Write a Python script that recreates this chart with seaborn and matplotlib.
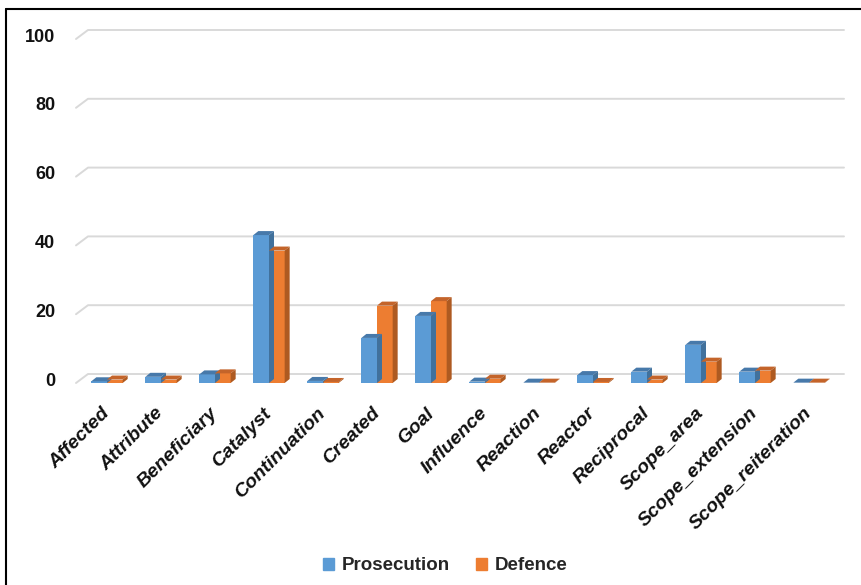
import matplotlib
matplotlib.use("Agg")
import matplotlib.pyplot as plt
from matplotlib.patches import Polygon
from matplotlib.lines import Line2D
from matplotlib.transforms import ScaledTranslation
import seaborn as sns
import pandas as pd

# Semantic role counts per side
categories = ["Affected", "Attribute", "Beneficiary", "Catalyst", "Continuation",
              "Created", "Goal", "Influence", "Reaction", "Reactor", "Reciprocal",
              "Scope_area", "Scope_extension", "Scope_reiteration"]
prosecution = [0.5, 1.8, 2.5, 43.0, 0.6, 13.1, 19.5, 0.4, 0.1, 2.3, 3.3, 11.1, 3.3, 0.1]
defence = [1.0, 1.0, 2.8, 38.5, 0.3, 22.5, 23.8, 1.25, 0.1, 0.3, 1.0, 6.2, 3.6, 0.1]
series_names = ["Prosecution", "Defence"]
y_ticks = [0, 20, 40, 60, 80, 100]

front_colors = {"Prosecution": "#5B9BD5", "Defence": "#ED7D31"}
side_colors = {"Prosecution": "#41719C", "Defence": "#AE5A21"}
top_colors = {"Prosecution": "#4779AA", "Defence": "#C4642A"}

sns.set_theme(style="white")
plt.rcParams["font.family"] = ["Liberation Sans", "DejaVu Sans"]

df = pd.DataFrame({
    "role": categories * 2,
    "count": prosecution + defence,
    "side": [series_names[0]] * len(categories) + [series_names[1]] * len(categories),
})

W, H = 861, 585
fig = plt.figure(figsize=(W / 100, H / 100), dpi=100)
ax_left, ax_right, ax_bottom, ax_top = 80, 836, 383, 39
ax = fig.add_axes([ax_left / W, 1 - ax_bottom / H, (ax_right - ax_left) / W, (ax_bottom - ax_top) / H])

sns.barplot(data=df, x="role", y="count", hue="side", hue_order=series_names,
            palette=front_colors, width=0.58, linewidth=0, saturation=1,
            legend=False, ax=ax, zorder=3)

n = len(categories)
ax.set_xlim(-0.5, n - 0.5)
ax.set_ylim(0, 100)

# pixel-to-data conversion
px_x = n / (ax_right - ax_left)
px_y = 100 / (ax_bottom - ax_top)

# back-wall gridlines with a short floor diagonal on the left
for v in y_ticks:
    ax.add_line(Line2D([-0.5 - 4 * px_x, -0.5 + 8 * px_x, n - 0.5 + 8 * px_x],
                       [v, v + 9 * px_y, v + 9 * px_y],
                       color="#D9D9D9", lw=1.4, clip_on=False, zorder=1))

# depth faces on each bar
dx, dy = 5 * px_x, 4 * px_y
for i, bar in enumerate(ax.patches):
    name = series_names[i // n]
    x0, w, h = bar.get_x(), bar.get_width(), bar.get_height()
    top = Polygon([(x0, h), (x0 + w, h), (x0 + w + dx, h + dy), (x0 + dx, h + dy)],
                  closed=True, facecolor=top_colors[name], edgecolor="none", zorder=3)
    side = Polygon([(x0 + w, 0), (x0 + w, h), (x0 + w + dx, h + dy), (x0 + w + dx, dy)],
                   closed=True, facecolor=side_colors[name], edgecolor="none", zorder=3)
    ax.add_patch(top)
    ax.add_patch(side)

for s in ax.spines.values():
    s.set_visible(False)
ax.grid(False)
ax.set_xlabel("")
ax.set_ylabel("")
ax.set_yticks(y_ticks)
ax.set_yticklabels([str(t) for t in y_ticks], fontsize=13, fontweight="bold", color="#111111")
ax.tick_params(axis="y", length=0, pad=18)
ax.tick_params(axis="x", length=0, pad=20)
ax.set_xticks(range(n))
ax.set_xticklabels(categories, rotation=45, ha="right", va="center", rotation_mode="anchor",
                   fontsize=14, fontweight="bold", fontstyle="italic", color="#111111")

# lift the value labels to sit between the front and back planes
lift = ScaledTranslation(0, 0.04, fig.dpi_scale_trans)
for lbl in ax.get_yticklabels():
    lbl.set_transform(lbl.get_transform() + lift)

# legend
handles = [plt.Rectangle((0, 0), 1, 1, color=front_colors[s]) for s in series_names]
fig.legend(handles, series_names, loc="center", bbox_to_anchor=(445 / W, 1 - 566 / H),
           ncol=2, frameon=False, handlelength=0.6, handleheight=0.6, handletextpad=0.4,
           columnspacing=1.4, prop={"size": 13.5, "weight": "bold"})

# chart frame (top and left edges)
fig.add_artist(Line2D([6 / W, 1], [1 - 9 / H, 1 - 9 / H], color="black", lw=1.5, transform=fig.transFigure))
fig.add_artist(Line2D([6 / W, 6 / W], [0, 1 - 9 / H], color="black", lw=1.5, transform=fig.transFigure))

fig.savefig("out.png", dpi=100)
